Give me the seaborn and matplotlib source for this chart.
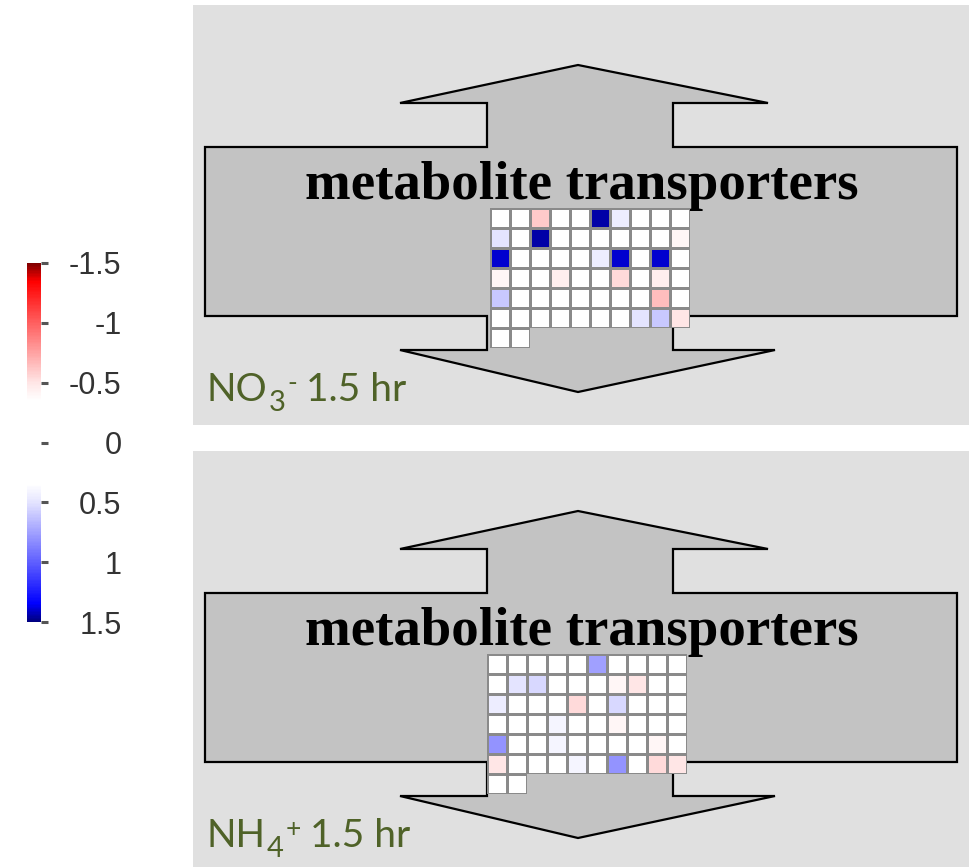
import numpy as np
import matplotlib
matplotlib.use("Agg")
import matplotlib.pyplot as plt
from matplotlib.colors import LinearSegmentedColormap
from matplotlib.patches import Rectangle, Polygon
import seaborn as sns

nan = np.nan

# Expression change per transporter gene (log ratio), 7 rows x 10 columns;
# the last row holds only two genes
no3_values = [
    [0.0, 0.0, -0.6, 0.0, 0.1, 1.45, 0.45, 0.0, 0.0, 0.0],
    [0.5, 0.0, 1.45, 0.0, 0.0, 0.0, 0.3, 0.0, 0.0, -0.4],
    [1.4, 0.0, 0.0, 0.0, 0.0, 0.45, 1.4, 0.0, 1.4, 0.0],
    [-0.4, 0.0, 0.0, -0.45, 0.0, 0.0, -0.55, 0.0, -0.45, 0.0],
    [0.6, 0.0, 0.0, 0.0, 0.0, 0.0, 0.0, 0.0, -0.65, 0.0],
    [0.0, 0.0, 0.0, 0.0, 0.0, 0.0, 0.0, 0.5, 0.6, -0.5],
    [0.0, 0.0, nan, nan, nan, nan, nan, nan, nan, nan],
]
nh4_values = [
    [0.0, 0.0, 0.0, 0.0, 0.0, 0.75, 0.0, 0.0, 0.0, 0.0],
    [0.0, 0.5, 0.55, 0.0, 0.0, 0.0, -0.4, -0.5, 0.0, 0.0],
    [0.45, 0.0, 0.0, 0.0, -0.55, 0.0, 0.55, 0.0, 0.0, 0.0],
    [0.0, 0.0, 0.0, 0.4, 0.0, 0.0, -0.4, 0.0, 0.0, 0.0],
    [0.8, 0.0, 0.0, 0.4, 0.0, 0.0, 0.0, 0.0, -0.4, 0.0],
    [-0.5, 0.0, 0.0, 0.0, 0.4, 0.0, 0.8, 0.0, -0.55, -0.5],
    [0.0, 0.0, nan, nan, nan, nan, nan, nan, nan, nan],
]
panel_titles = ["metabolite transporters", "metabolite transporters"]
panel_labels = [("NO", "3", "-"), ("NH", "4", "+")]
panel_suffix = "1.5 hr"
cbar_ticks = [-1.5, -1, -0.5, 0, 0.5, 1, 1.5]
cbar_ticklabels = ["-1.5", "-1", "-0.5", "0", "0.5", "1", "1.5"]

cmap = LinearSegmentedColormap.from_list(
    "rwb",
    [
        (0.0, "#7f0000"),
        (0.05, "#ff0000"),
        (0.1667, "#ff6060"),
        (0.333, "#ffe6e6"),
        (0.383, "#ffffff"),
        (0.617, "#ffffff"),
        (0.667, "#e4e4ff"),
        (0.833, "#6060ff"),
        (0.95, "#0000ff"),
        (1.0, "#00007f"),
    ],
)

W, H = 969, 867
fig = plt.figure(figsize=(W / 100, H / 100), dpi=100)
fig.patch.set_facecolor("white")


def px_axes(x0, y0, x1, y1):
    return fig.add_axes([x0 / W, 1 - y1 / H, (x1 - x0) / W, (y1 - y0) / H])


bg = fig.add_axes([0, 0, 1, 1])
bg.set_xlim(0, W)
bg.set_ylim(H, 0)
bg.axis("off")


def arrow_outline(dy):
    pts = [
        (205, 147), (487, 147), (487, 103), (400, 103), (578, 65),
        (768, 103), (673, 103), (673, 147), (957, 147), (957, 316),
        (673, 316), (673, 350), (775, 350), (578, 392), (400, 350),
        (487, 350), (487, 316), (205, 316),
    ]
    return [(x, y + dy) for x, y in pts]


offsets = [0, 446]
grid_x = [(490, 690), (487, 687)]
panels = [no3_values, nh4_values]
label_font = dict(family="Lato", color="#4f6228")

title_texts = []
for i, dy in enumerate(offsets):
    bg.add_patch(Rectangle((193, 5 + dy), 776, 420, fc="#e0e0e0", ec="none"))
    bg.add_patch(Polygon(arrow_outline(dy), closed=True, fc="#c3c3c3",
                         ec="black", lw=1.6, joinstyle="miter"))
    t = bg.text(582, 199 + dy, panel_titles[i], family="Liberation Serif",
                weight="bold", fontsize=40, ha="center", va="baseline",
                color="black")
    title_texts.append(t)

# Scale the serif title so it spans the arrow bar as drawn
fig.canvas.draw()
renderer = fig.canvas.get_renderer()
for t in title_texts:
    w = t.get_window_extent(renderer).width
    t.set_fontsize(t.get_fontsize() * 552 / w)

# Chemical formula label: base, subscript, then superscript, then time
inv = bg.transData.inverted()


def right_edge(txt):
    bb = txt.get_window_extent(renderer)
    return inv.transform((bb.x1, bb.y0))[0]


for i, dy in enumerate(offsets):
    base, sub, sup = panel_labels[i]
    t0 = bg.text(207, 401 + dy, base, fontsize=28, ha="left",
                 va="baseline", **label_font)
    fig.canvas.draw()
    ts = bg.text(right_edge(t0) + 1, 411 + dy, sub, fontsize=21, ha="left",
                 va="baseline", **label_font)
    fig.canvas.draw()
    tp = bg.text(right_edge(ts) + 2, 391 + dy, sup, fontsize=19, ha="left",
                 va="baseline", **label_font)
    fig.canvas.draw()
    bg.text(right_edge(tp) + 9, 401 + dy, panel_suffix, fontsize=28,
            ha="left", va="baseline", **label_font)

cax = px_axes(27, 263, 41, 622)


def draw_block(ax, block, with_cbar):
    sns.heatmap(
        block, ax=ax, cmap=cmap, vmin=-1.5, vmax=1.5,
        linewidths=2.0, linecolor="#8a8a8a",
        cbar=with_cbar, cbar_ax=cax if with_cbar else None,
        cbar_kws={"ticks": cbar_ticks} if with_cbar else None,
        xticklabels=False, yticklabels=False,
    )
    ax.set_facecolor("none")
    ax.set_xlabel("")
    ax.set_ylabel("")


cbar = None
for i, dy in enumerate(offsets):
    x0, x1 = grid_x[i]
    data = np.array(panels[i], dtype=float)
    full_rows = data[:-1]
    last_row = data[-1:]
    n_last = int(np.sum(~np.isnan(last_row)))
    cell_w = (x1 - x0) / data.shape[1]
    cell_h = 20
    top = 208 + dy
    ax = px_axes(x0, top, x1, top + cell_h * full_rows.shape[0])
    draw_block(ax, full_rows, i == 0)
    if i == 0:
        cbar = ax.collections[0].colorbar
    ax2 = px_axes(x0, top + cell_h * full_rows.shape[0],
                  x0 + cell_w * n_last, top + cell_h * data.shape[0])
    draw_block(ax2, last_row[:, :n_last], False)

cbar.outline.set_visible(False)
cax.invert_yaxis()
cax.yaxis.set_ticks_position("right")
cax.tick_params(axis="y", length=5, width=2.2, color="#555555", pad=53)
cax.set_yticks(cbar_ticks)
cax.set_yticklabels(cbar_ticklabels, family="Liberation Sans", fontsize=22,
                    color="#333333", ha="right")

fig.savefig("out.png", dpi=100, facecolor="white")
